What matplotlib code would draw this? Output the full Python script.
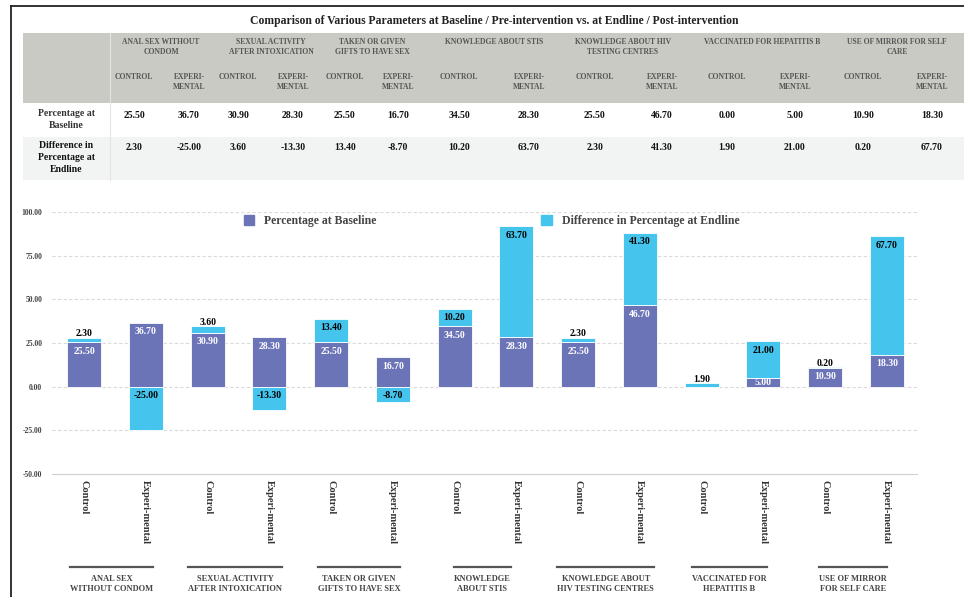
import matplotlib.pyplot as plt
import matplotlib.transforms as mtransforms
from matplotlib.patches import Patch, Rectangle

# ---- data ----
groups = [
    "ANAL SEX\nWITHOUT CONDOM",
    "SEXUAL ACTIVITY\nAFTER INTOXICATION",
    "TAKEN OR GIVEN\nGIFTS TO HAVE SEX",
    "KNOWLEDGE\nABOUT STIS",
    "KNOWLEDGE ABOUT\nHIV TESTING CENTRES",
    "VACCINATED FOR\nHEPATITIS B",
    "USE OF MIRROR\nFOR SELF CARE",
]
table_groups = [
    "ANAL SEX WITHOUT\nCONDOM",
    "SEXUAL ACTIVITY\nAFTER INTOXICATION",
    "TAKEN OR GIVEN\nGIFTS TO HAVE SEX",
    "KNOWLEDGE ABOUT STIS",
    "KNOWLEDGE ABOUT HIV\nTESTING CENTRES",
    "VACCINATED FOR HEPATITIS B",
    "USE OF MIRROR FOR SELF\nCARE",
]
arms = ["Control", "Experi-mental"] * 7
table_arms = ["CONTROL", "EXPERI-\nMENTAL"] * 7
baseline = [25.5, 36.7, 30.9, 28.3, 25.5, 16.7, 34.5, 28.3, 25.5, 46.7, 0.0, 5.0, 10.9, 18.3]
difference = [2.3, -25.0, 3.6, -13.3, 13.4, -8.7, 10.2, 63.7, 2.3, 41.3, 1.9, 21.0, 0.2, 67.7]
row_labels = ["Percentage at\nBaseline", "Difference in\nPercentage at\nEndline"]
yticks = [-50, -25, 0, 25, 50, 75, 100]
title = "Comparison of Various Parameters at Baseline / Pre-intervention vs. at Endline / Post-intervention"

# ---- style ----
BASE_COLOR = "#6C74B8"
DIFF_COLOR = "#45C5EE"
HEADER_BG = "#CACAC4"
ROW2_BG = "#F2F4F4"
SERIF = "Liberation Serif"
W, H = 964, 597

# table column centres (pixels) and group header centres
col_x = [134, 189, 238, 293, 345, 398, 459, 529, 595, 662, 727, 795, 863, 932]
group_x = [161, 271, 372, 494, 623, 762, 897]

plt.rcParams["font.family"] = SERIF
plt.rcParams["font.weight"] = "bold"

fig = plt.figure(figsize=(W / 100, H / 100), dpi=100)

# pixel canvas for table / frame
cv = fig.add_axes([0, 0, 1, 1])
cv.set_xlim(0, W)
cv.set_ylim(H, 0)
cv.axis("off")

cv.plot([11, 11], [6, H], color="#222222", lw=1.3)
cv.plot([11, W], [6, 6], color="#222222", lw=1.3)

cv.text(494, 21, title, ha="center", va="center", fontsize=8.4, fontweight="bold", color="#222222")

cv.add_patch(Rectangle((23, 33), W - 23, 70, color=HEADER_BG, lw=0))
cv.add_patch(Rectangle((23, 137), W - 23, 43, color=ROW2_BG, lw=0))
cv.plot([110, 110], [33, 180], color="#E4E4E4", lw=0.8)

for gx, g in zip(group_x, table_groups):
    cv.text(gx, 38, g, ha="center", va="top", fontsize=5.5, color="#555555",
            linespacing=1.3)
for cx, a in zip(col_x, table_arms):
    cv.text(cx, 73, a, ha="center", va="top", fontsize=5.5, color="#555555",
            linespacing=1.4)

cv.text(66, 109, row_labels[0], ha="center", va="top", fontsize=7, color="#333333",
        linespacing=1.45)
cv.text(66, 141, row_labels[1], ha="center", va="top", fontsize=7, color="#111111",
        linespacing=1.45)
for cx, b, d in zip(col_x, baseline, difference):
    cv.text(cx, 115, f"{b:.2f}", ha="center", va="center", fontsize=7, color="#111111")
    cv.text(cx, 147, f"{d:.2f}", ha="center", va="center", fontsize=7, color="#111111")

# ---- bar chart ----
ax = fig.add_axes([52 / W, (H - 474) / H, (917 - 52) / W, (474 - 212) / H])
x = list(range(len(baseline)))
width = 0.55
ax.bar(x, baseline, width, color=BASE_COLOR, edgecolor="white", lw=0.6,
       label="Percentage at Baseline", zorder=3)
diff_bottom = [b if d > 0 else 0 for b, d in zip(baseline, difference)]
ax.bar(x, difference, width, bottom=diff_bottom, color=DIFF_COLOR, edgecolor="white",
       lw=0.6, label="Difference in Percentage at Endline", zorder=3)

for xi, b, d, bot in zip(x, baseline, difference, diff_bottom):
    if b > 0:
        if b < 8:
            ax.text(xi, b / 2, f"{b:.2f}", ha="center", va="center", fontsize=7,
                    color="white", zorder=4)
        else:
            ax.annotate(f"{b:.2f}", (xi, b), xytext=(0, -6.5), textcoords="offset points",
                        ha="center", va="center", fontsize=7, color="white", zorder=4)
    top = bot + d if d > 0 else 0
    if d > 0 and d < 5:
        ax.annotate(f"{d:.2f}", (xi, top), xytext=(0, 3), textcoords="offset points",
                    ha="center", va="center", fontsize=7, color="black", zorder=4)
    else:
        ax.annotate(f"{d:.2f}", (xi, top), xytext=(0, -6.5), textcoords="offset points",
                    ha="center", va="center", fontsize=7, color="black", zorder=4)

ax.set_xlim(-0.52, 13.49)
ax.set_ylim(-50, 100)
ax.set_yticks(yticks)
ax.set_yticklabels([f"{v:.2f}" for v in yticks], fontsize=5.5, color="#444444")
ax.set_xticks(x)
ax.set_xticklabels(arms, rotation=270, fontsize=7.5, color="#333333", va="top", ha="center")
ax.tick_params(length=0, axis="both")
ax.tick_params(axis="x", pad=4)
ax.tick_params(axis="y", pad=7)
for v in yticks[1:]:
    ax.axhline(v, color="#DADADA", lw=0.8, ls=(0, (3, 2)), zorder=1)
for s in ["top", "right", "left"]:
    ax.spines[s].set_visible(False)
ax.spines["bottom"].set_color("#D0D0D0")

handles = [Patch(color=BASE_COLOR), Patch(color=DIFF_COLOR)]
ax.legend(handles, ["Percentage at Baseline", "Difference in Percentage at Endline"],
          loc="upper center", bbox_to_anchor=(0.508, 1.03), ncol=2, frameon=False,
          prop={"family": SERIF, "weight": "bold", "size": 8.5}, labelcolor="#444444",
          handlelength=0.9, handleheight=0.9, columnspacing=14, handletextpad=0.8)

# group labels under the tick labels
tr = mtransforms.blended_transform_factory(ax.transData, cv.transData)
fig.canvas.draw()
renderer = fig.canvas.get_renderer()
for i, g in enumerate(groups):
    cx = 2 * i + 0.45
    t = ax.text(cx, 575, g, transform=tr, ha="center", va="top", fontsize=6,
                color="#444444", linespacing=1.3)
    bb = t.get_window_extent(renderer)
    x0 = ax.transData.inverted().transform((bb.x0, 0))[0]
    x1 = ax.transData.inverted().transform((bb.x1, 0))[0]
    ax.plot([x0, x1], [567, 567], transform=tr, color="#555555", lw=1.6, clip_on=False)

fig.savefig("out.png", dpi=100)
